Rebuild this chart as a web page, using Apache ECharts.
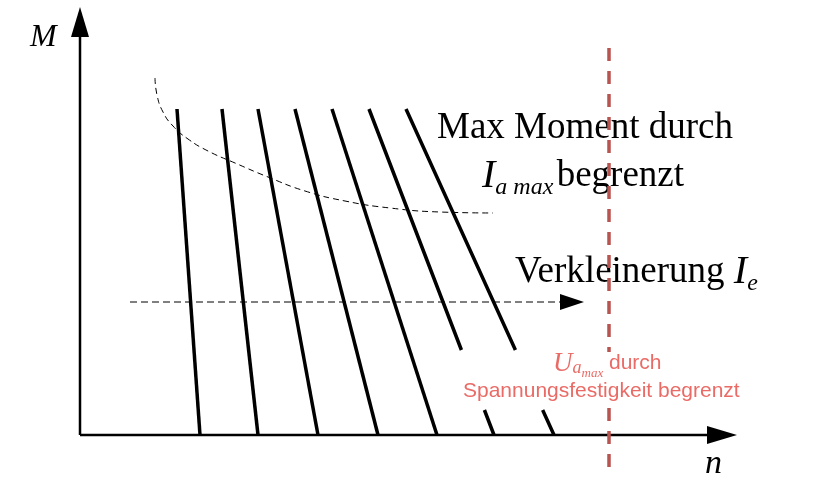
<!DOCTYPE html>
<html><head><meta charset="utf-8">
<script src="https://cdn.jsdelivr.net/npm/echarts@6/dist/echarts.min.js"></script>
<style>html,body{margin:0;background:#fff}#main{width:816px;height:501px}</style>
</head><body><div id="main"></div>
<script>
// Kennlinien: obere und untere Endpunkte (x-Werte), gemeinsame y-Werte
var topX = [177, 222, 258, 295, 332, 369, 406];
var bottomX = [200, 258, 318, 378, 437, 494, 554];
var topY = 109, bottomY = 435;
// Unterbrechung der letzten beiden Linien (Textbereich)
var gapY = [350, 410];
// Ia max Grenzkurve
var limitCurve = [[155,78],[157,95],[163,112],[173,126],[188,139],[208,151],[235,163],[268,177],[305,191],[345,201],[390,208],[440,212],[493,213]];
var hArrow = [[130,302],[572,302]];
var voltageLine = [[609,48],[609,352],null,[609,408],[609,472]];

var myChart = echarts.init(document.getElementById('main'));
var series = [];
var blk = {color:'#000'};

// Achsen
series.push({type:'line', data:[[80,435],{value:[80,22],symbol:'triangle',symbolSize:[18,30]}], symbol:'none',
  itemStyle:blk, lineStyle:{color:'#000',width:2.5}, z:3});
series.push({type:'line', data:[[80,435],{value:[722,435],symbol:'triangle',symbolRotate:-90,symbolSize:[18,30]}], symbol:'none',
  itemStyle:blk, lineStyle:{color:'#000',width:2.5}, z:3});

topX.forEach(function(x0, i){
  var x1 = bottomX[i], pts;
  if (i >= 5) {
    var f = function(y){ return x0 + (x1 - x0) * (y - topY) / (bottomY - topY); };
    pts = [[x0,topY],[f(gapY[0]),gapY[0]],null,[f(gapY[1]),gapY[1]],[x1,bottomY]];
  } else {
    pts = [[x0,topY],[x1,bottomY]];
  }
  series.push({type:'line', data:pts, symbol:'none', connectNulls:false,
    lineStyle:{color:'#000',width:3.5}});
});

series.push({type:'line', data:limitCurve, symbol:'none', smooth:true,
  lineStyle:{color:'#000',width:1,type:[6,4]}});
series.push({type:'line', data:[hArrow[0],{value:hArrow[1],symbol:'triangle',symbolRotate:-90,symbolSize:[16,24]}], symbol:'none',
  itemStyle:blk, lineStyle:{color:'#000',width:1,type:[7,4]}, z:3});
series.push({type:'line', data:voltageLine, symbol:'none', connectNulls:false,
  lineStyle:{color:'#b85450',width:3.5,type:[13,10]}});

var serif = '"Liberation Serif","DejaVu Serif",serif';
var sans = '"Liberation Sans",Arial,sans-serif';
var red = '#ea6b66';
var option = {
  animation:false,
  grid:{left:0,top:0,right:0,bottom:0},
  xAxis:{type:'value',min:0,max:816,show:false},
  yAxis:{type:'value',min:0,max:501,inverse:true,show:false},
  series: series,
  graphic:[
    {type:'text',left:30,top:22,style:{text:'M',font:'italic 32px '+serif,fill:'#000'}},
    {type:'text',left:705,top:447,style:{text:'n',font:'italic 34px '+serif,fill:'#000'}},
    {type:'text',left:437,top:110,style:{text:'Max Moment durch',font:'37px '+serif,fill:'#000'}},
    {type:'text',left:482,top:156,style:{
      text:'{i|I}{s|a max} {n|begrenzt}',
      rich:{i:{font:'italic 40px '+serif,fill:'#000'},
            s:{font:'italic 24px '+serif,fill:'#000',padding:[24,0,0,0]},
            n:{font:'37px '+serif,fill:'#000'}}}},
    {type:'text',left:515,top:252,style:{
      text:'{n|Verkleinerung }{i|I}{s|e}',
      rich:{n:{font:'37px '+serif,fill:'#000'},
            i:{font:'italic 40px '+serif,fill:'#000'},
            s:{font:'italic 24px '+serif,fill:'#000',padding:[24,0,0,0]}}}},
    {type:'text',left:553,top:350,style:{
      text:'{u|U}{a|a}{m|max}{t| durch}',
      rich:{u:{font:'italic 27px '+serif,fill:red},
            a:{font:'italic 18px '+serif,fill:red,padding:[10,0,0,0]},
            m:{font:'italic 13px '+serif,fill:red,padding:[20,0,0,0]},
            t:{font:'21px '+sans,fill:red}}}},
    {type:'text',left:463,top:381,style:{text:'Spannungsfestigkeit begrenzt',font:'21px '+sans,fill:red}}
  ]
};
myChart.setOption(option);
</script></body></html>
